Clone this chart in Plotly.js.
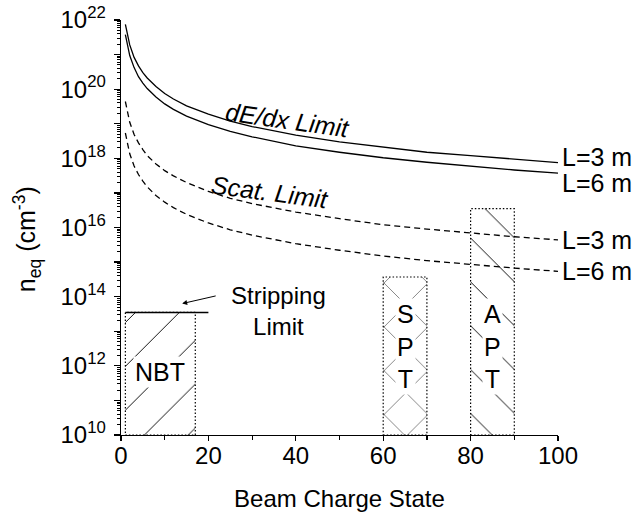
<!DOCTYPE html>
<html>
<head>
<meta charset="utf-8">
<script src="https://cdn.plot.ly/plotly-3.0.1.min.js"></script>
<style>
  html, body { margin: 0; padding: 0; background: #fff; }
  #chart { width: 637px; height: 519px; }
</style>
</head>
<body>
<div id="chart"></div>
<script>
// Beam charge states at which the limit curves are sampled
const chargeState = [1, 1.5, 2, 3, 4, 5, 6, 8, 10, 12, 15, 20, 25, 30, 40, 50, 60, 70, 80, 90, 100];

// Energy-loss (dE/dx) limit on the equivalent density n_eq (cm^-3)
const dedxL3 = [7.5e21, 3.3e21, 1.9e21, 8.3e20, 4.7e20, 3.0e20, 2.1e20, 1.2e20, 7.5e19, 5.2e19, 3.3e19, 1.9e19, 1.2e19, 8.3e18, 4.7e18, 3.0e18, 2.1e18, 1.5e18, 1.2e18, 9.3e17, 7.5e17];
const dedxL6 = [3.75e21, 1.67e21, 9.4e20, 4.2e20, 2.3e20, 1.5e20, 1.04e20, 5.9e19, 3.75e19, 2.6e19, 1.67e19, 9.4e18, 6.0e18, 4.2e18, 2.3e18, 1.5e18, 1.04e18, 7.7e17, 5.9e17, 4.6e17, 3.75e17];

// Scattering limit on n_eq (cm^-3)
const scatL3 = [4.4e19, 2.0e19, 1.1e19, 4.9e18, 2.8e18, 1.8e18, 1.2e18, 6.9e17, 4.4e17, 3.1e17, 2.0e17, 1.1e17, 7.0e16, 4.9e16, 2.8e16, 1.8e16, 1.2e16, 9.0e15, 6.9e15, 5.4e15, 4.4e15];
const scatL6 = [5.4e18, 2.4e18, 1.35e18, 6.0e17, 3.4e17, 2.2e17, 1.5e17, 8.4e16, 5.4e16, 3.75e16, 2.4e16, 1.35e16, 8.6e15, 6.0e15, 3.4e15, 2.2e15, 1.5e15, 1.1e15, 8.4e14, 6.7e14, 5.4e14];

const curveLabels = ['L=3 m', 'L=6 m', 'L=3 m', 'L=6 m'];

// Stripping limit
const strippingQ = [1, 20];
const strippingDensity = 3.5e13;

// Operating regions of the three facilities
const facilityNames = ['NBT', 'S<br>P<br>T', 'A<br>P<br>T'];
const facilityQMin = [1, 60, 80];
const facilityQMax = [17, 70, 90];
const facilityDensity = [3.5e13, 3.7e14, 3.5e16];
const facilityHatch = ['/', 'x', '\\'];
const densityFloor = 1e10;

// Axis ticks
const xTickVals = [0, 20, 40, 60, 80, 100];
const yDecades = [10, 11, 12, 13, 14, 15, 16, 17, 18, 19, 20, 21, 22];
const yTickText = ['10<sup>10</sup>', '', '10<sup>12</sup>', '', '10<sup>14</sup>', '', '10<sup>16</sup>', '',
                   '10<sup>18</sup>', '', '10<sup>20</sup>', '', '10<sup>22</sup>'];

const FONT = 'Liberation Sans, Arial, Helvetica, sans-serif';

const yTickVals = yDecades.map(d => Math.pow(10, d));
const yMinorVals = [];
yDecades.slice(0, -1).forEach(d => {
  for (let m = 2; m <= 9; m++) yMinorVals.push(m * Math.pow(10, d));
});

const traces = [];

// hatched facility boxes
facilityNames.forEach((name, i) => {
  const x0 = facilityQMin[i], x1 = facilityQMax[i], top = facilityDensity[i];
  traces.push({
    type: 'scatter', mode: 'lines',
    x: [x0, x1, x1, x0, x0],
    y: [densityFloor, densityFloor, top, top, densityFloor],
    fill: 'toself',
    fillcolor: 'rgba(0,0,0,0)',
    fillpattern: { shape: facilityHatch[i], size: 31, solidity: 0.03, fgcolor: '#000', fgopacity: 1, fillmode: 'overlay' },
    line: { color: '#000', width: 1.2, dash: '1.5px,2px' },
    hoverinfo: 'skip', showlegend: false
  });
});

// limit curves
const curves = [
  { y: dedxL3, dash: 'solid' },
  { y: dedxL6, dash: 'solid' },
  { y: scatL3, dash: '6px,4px' },
  { y: scatL6, dash: '6px,4px' }
];
curves.forEach(c => {
  traces.push({
    type: 'scatter', mode: 'lines',
    x: chargeState, y: c.y,
    line: { color: '#000', width: 1.3, dash: c.dash },
    hoverinfo: 'skip', showlegend: false
  });
});

// stripping limit
traces.push({
  type: 'scatter', mode: 'lines',
  x: strippingQ, y: [strippingDensity, strippingDensity],
  line: { color: '#000', width: 1.6 },
  hoverinfo: 'skip', showlegend: false
});

const txt = (size, extra) => Object.assign({ family: FONT, size: size, color: '#000' }, extra || {});

const annotations = [];
// labels at the right ends of the curves
const endShifts = [6, -10, 0, 0];
curves.forEach((c, i) => {
  annotations.push({
    x: chargeState[chargeState.length - 1], y: Math.log10(c.y[c.y.length - 1]),
    xref: 'x', yref: 'y', text: curveLabels[i], showarrow: false,
    xanchor: 'left', yanchor: 'middle', xshift: 2, yshift: endShifts[i],
    font: txt(25)
  });
});
annotations.push({
  x: 38, y: 19.1, xref: 'x', yref: 'y', text: '<i>dE/dx Limit</i>', showarrow: false,
  textangle: 8, font: txt(25)
});
annotations.push({
  x: 34, y: 17.04, xref: 'x', yref: 'y', text: '<i>Scat. Limit</i>', showarrow: false,
  textangle: 7.5, font: txt(25)
});
annotations.push({
  x: 36, y: 13.6, xref: 'x', yref: 'y', text: 'Stripping<br>Limit', showarrow: false,
  font: txt(24)
});
annotations.push({
  x: 14, y: 13.8, xref: 'x', yref: 'y', text: '', showarrow: true,
  ax: 35, ay: -8, arrowhead: 2, arrowsize: 1, arrowwidth: 1, arrowcolor: '#000'
});
facilityNames.forEach((name, i) => {
  annotations.push({
    x: (facilityQMin[i] + facilityQMax[i]) / 2, y: i === 0 ? 11.81 : 12.56,
    xref: 'x', yref: 'y', text: name, showarrow: false,
    font: txt(25), bgcolor: '#fff', borderpad: 1
  });
});
// vertical axis title
annotations.push({
  x: -0.215, y: 0.472, xref: 'paper', yref: 'paper',
  xanchor: 'center', yanchor: 'middle',
  text: 'n<sub>eq</sub> (cm<sup>-3</sup>)', showarrow: false, textangle: -90,
  font: txt(25)
});

const layout = {
  width: 637, height: 519,
  margin: { l: 121, r: 79, t: 20, b: 84 },
  paper_bgcolor: '#fff', plot_bgcolor: '#fff',
  font: { family: FONT, size: 24, color: '#000' },
  showlegend: false,
  xaxis: {
    range: [0, 100], tickmode: 'array', tickvals: xTickVals,
    ticks: 'outside', ticklen: 5, tickwidth: 1.2, tickcolor: '#000',
    minor: { dtick: 10, ticks: 'outside', ticklen: 4, tickwidth: 1.2, tickcolor: '#000', showgrid: false },
    showline: true, linecolor: '#000', linewidth: 1.3,
    showgrid: false, zeroline: false,
    ticklabelstandoff: -6,
    tickfont: { family: FONT, size: 24, color: '#000' },
    title: { text: 'Beam Charge State', font: { family: FONT, size: 24, color: '#000' }, standoff: 22 }
  },
  yaxis: {
    type: 'log', range: [10, 22], tickmode: 'array', tickvals: yTickVals, ticktext: yTickText,
    ticks: 'outside', ticklen: 6, tickwidth: 1.2, tickcolor: '#000',
    minor: { tickmode: 'array', tickvals: yMinorVals, ticks: 'outside', ticklen: 3, tickwidth: 1, tickcolor: '#000', showgrid: false },
    showline: true, linecolor: '#000', linewidth: 1.3,
    showgrid: false, zeroline: false,
    ticklabelstandoff: 3,
    tickfont: { family: FONT, size: 24, color: '#000' }
  },
  annotations: annotations
};

Plotly.newPlot('chart', traces, layout, { staticPlot: true, displayModeBar: false });
</script>
</body>
</html>
